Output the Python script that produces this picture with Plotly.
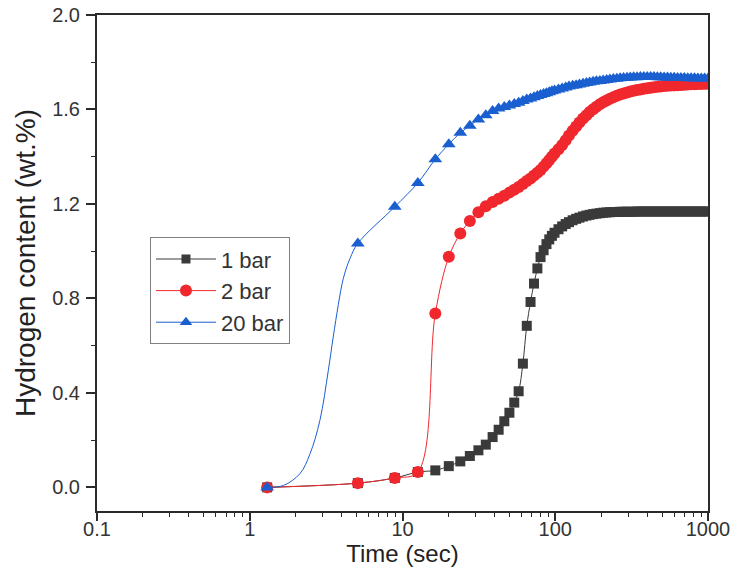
import plotly.graph_objects as go

# ---- data ----
time_s = [1.3, 5.1, 8.9, 12.6, 16.4, 20.1, 23.9, 27.6, 31.4, 35.1, 38.9, 42.6,
          46.4, 50.1, 53.9, 57.6, 61.4, 65.1, 68.9, 72.6, 76.4, 80.1, 83.9, 87.6,
          91.4, 95.1, 98.9, 105, 111, 117, 123, 130, 137, 144, 152, 160, 168, 177,
          186, 196, 206, 217, 228, 240, 253, 266, 280, 295, 310, 326, 343, 361,
          380, 400, 421, 443, 466, 490, 516, 543, 571, 601, 632, 665, 700, 737,
          775, 816, 858, 903, 950, 1000]

h_1bar = [0.0, 0.018, 0.04, 0.065, 0.072, 0.09, 0.11, 0.133, 0.157, 0.181, 0.213, 0.244,
          0.28, 0.316, 0.359, 0.407, 0.524, 0.684, 0.785, 0.863, 0.927, 0.975, 1.004, 1.03,
          1.05, 1.065, 1.078, 1.093, 1.105, 1.115, 1.123, 1.131, 1.137, 1.142, 1.147, 1.151,
          1.154, 1.157, 1.159, 1.161, 1.163, 1.164, 1.165, 1.166, 1.166, 1.167, 1.167, 1.167,
          1.167, 1.167, 1.168, 1.168, 1.168, 1.168, 1.168, 1.168, 1.168, 1.168, 1.168, 1.168,
          1.168, 1.168, 1.168, 1.168, 1.168, 1.168, 1.168, 1.168, 1.168, 1.168, 1.168, 1.168]

h_2bar = [0.0, 0.018, 0.04, 0.065, 0.736, 0.976, 1.075, 1.128, 1.165, 1.19, 1.208, 1.222,
          1.235, 1.248, 1.26, 1.272, 1.284, 1.297, 1.308, 1.32, 1.332, 1.344, 1.358, 1.372,
          1.386, 1.40, 1.414, 1.432, 1.45, 1.47, 1.49, 1.51, 1.528, 1.545, 1.562, 1.576,
          1.589, 1.601, 1.612, 1.622, 1.631, 1.638, 1.645, 1.652, 1.658, 1.663, 1.668, 1.672,
          1.676, 1.679, 1.682, 1.685, 1.688, 1.690, 1.692, 1.694, 1.696, 1.697, 1.699, 1.700,
          1.701, 1.702, 1.703, 1.704, 1.705, 1.706, 1.707, 1.707, 1.708, 1.708, 1.709, 1.709]

h_20bar = [0.0, 1.033, 1.188, 1.289, 1.389, 1.453, 1.501, 1.531, 1.558, 1.576, 1.594, 1.604,
           1.611, 1.617, 1.623, 1.629, 1.636, 1.642, 1.647, 1.652, 1.657, 1.661, 1.665, 1.669,
           1.673, 1.677, 1.68, 1.685, 1.689, 1.693, 1.697, 1.70, 1.703, 1.706, 1.709, 1.712,
           1.714, 1.717, 1.719, 1.721, 1.723, 1.725, 1.727, 1.729, 1.73, 1.732, 1.733, 1.734,
           1.735, 1.736, 1.736, 1.737, 1.737, 1.737, 1.737, 1.737, 1.736, 1.736, 1.735, 1.735,
           1.734, 1.734, 1.733, 1.733, 1.733, 1.732, 1.732, 1.732, 1.731, 1.731, 1.731, 1.731]

# connecting curve of the 20 bar series between its first two points
t_20bar_rise = [1.3, 1.66, 2.13, 2.48, 2.88, 3.27, 3.52, 3.80, 4.10, 4.53]
h_20bar_rise = [0.0, 0.008, 0.058, 0.142, 0.284, 0.496, 0.637, 0.773, 0.885, 0.969]

x_ticks = [0.1, 1, 10, 100, 1000]
x_ticktext = ["0.1", "1", "10", "100", "1000"]
series_names = ["1 bar", "2 bar", "20 bar"]

BLACK = "#3a3a3a"
RED = "#f0282d"
BLUE = "#1a5fd0"
AXC = "#2b2b2b"
FONT = "Arial, Liberation Sans, sans-serif"

fig = go.Figure()

fig.add_trace(go.Scatter(x=time_s, y=h_1bar, mode="lines+markers", showlegend=False,
                         line=dict(color=BLACK, width=1, shape="spline"),
                         marker=dict(symbol="square", size=10, color=BLACK)))
fig.add_trace(go.Scatter(x=time_s, y=h_2bar, mode="lines+markers", showlegend=False,
                         line=dict(color=RED, width=1, shape="spline"),
                         marker=dict(symbol="circle", size=12, color=RED)))
fig.add_trace(go.Scatter(x=t_20bar_rise + time_s[1:], y=h_20bar_rise + h_20bar[1:],
                         mode="lines", showlegend=False,
                         line=dict(color=BLUE, width=1, shape="spline")))
fig.add_trace(go.Scatter(x=time_s, y=h_20bar, mode="markers", showlegend=False,
                         marker=dict(symbol="triangle-up", size=12, color=BLUE)))

# legend entries (placed on the overlaid label axis so that axis is drawn)
for name, col, sym, sz in zip(series_names, [BLACK, RED, BLUE],
                              ["square", "circle", "triangle-up"], [9, 12, 11]):
    fig.add_trace(go.Scatter(x=[None], y=[None], mode="lines+markers", name=name,
                             xaxis="x2", yaxis="y",
                             line=dict(color=col, width=1),
                             marker=dict(symbol=sym, size=sz, color=col)))

fig.update_layout(
    width=731, height=577,
    margin=dict(l=97, r=23, t=15, b=66),
    paper_bgcolor="white", plot_bgcolor="white",
    font=dict(family=FONT, size=20, color="#333333"),
    legend=dict(x=0.0867, y=0.552, xanchor="left", yanchor="top",
                bgcolor="white", bordercolor="#808080", borderwidth=1,
                font=dict(size=22, color="#333333"), itemwidth=60,
                tracegroupgap=0),
    # main x axis: line, major and minor ticks
    xaxis=dict(type="log", range=[-1, 3], tickvals=x_ticks, showticklabels=False,
               ticks="outside", ticklen=8, tickwidth=1.5, tickcolor=AXC,
               minor=dict(dtick="D1", ticks="outside", ticklen=4, tickwidth=1.2,
                          tickcolor=AXC, showgrid=False),
               showline=True, linecolor=AXC, linewidth=2, mirror=True,
               showgrid=False, zeroline=False, automargin=False),
    # overlaid x axis carrying the tick labels and title
    xaxis2=dict(type="log", range=[-1, 3], overlaying="x", side="bottom", anchor="y",
                tickvals=x_ticks, ticktext=x_ticktext, ticks="", ticklabelstandoff=4,
                showline=False, showgrid=False, zeroline=False, automargin="height",
                tickfont=dict(size=20, color="#333333"),
                title=dict(text="Time (sec)", font=dict(size=24, color="#222222"), standoff=0)),
    yaxis=dict(range=[-0.1, 2.0], tick0=0, dtick=0.4, tickformat=".1f",
               ticks="outside", ticklen=9, tickwidth=1.5, tickcolor=AXC,
               ticklabelstandoff=2,
               minor=dict(dtick=0.2, tick0=0, ticks="outside", ticklen=4, tickwidth=1.2,
                          tickcolor=AXC, showgrid=False),
               showline=True, linecolor=AXC, linewidth=2, mirror=True,
               showgrid=False, zeroline=False, automargin="width",
               title=dict(text="Hydrogen content (wt.%)", font=dict(size=28, color="#222222"),
                          standoff=8),
               tickfont=dict(size=20)),
)

fig.write_html("out.html")
